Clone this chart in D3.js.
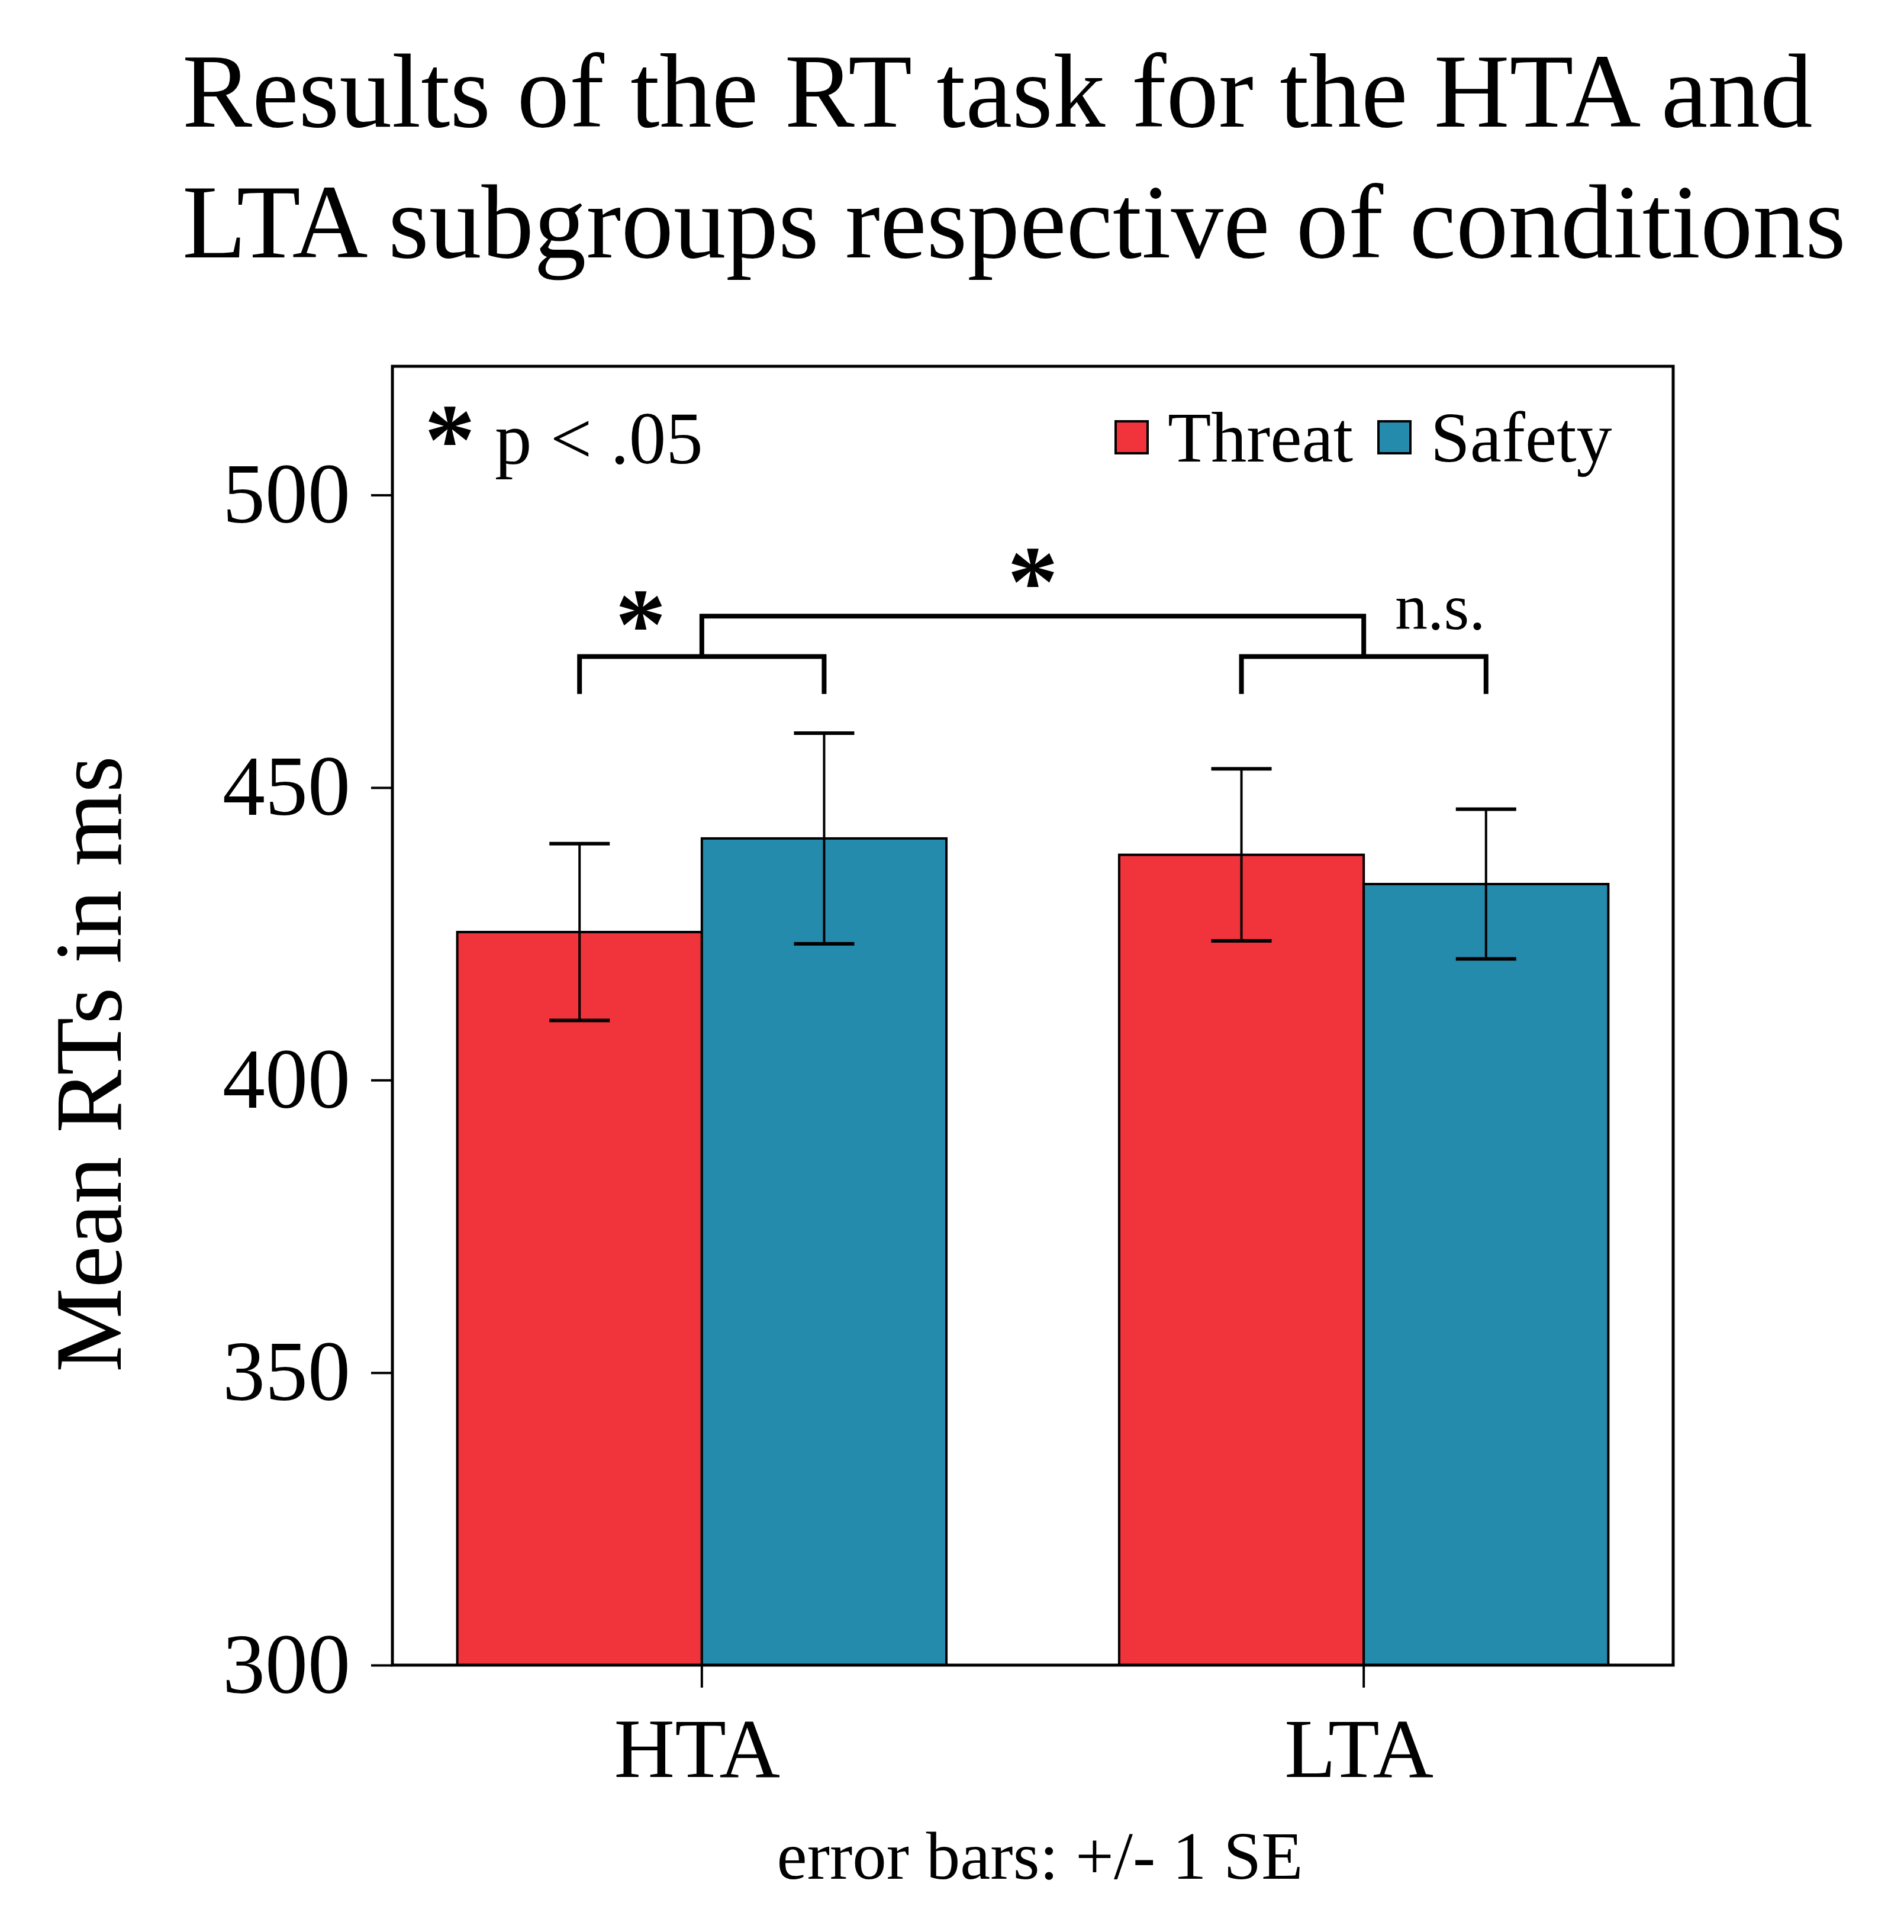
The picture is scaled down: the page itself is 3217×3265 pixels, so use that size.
<!DOCTYPE html>
<html>
<head>
<meta charset="utf-8">
<script src="https://cdn.jsdelivr.net/npm/d3@7"></script>
<style>
  body { margin: 0; background: #fff; }
</style>
</head>
<body>
<svg id="chart"></svg>
<script>
// Chart data
// ----------------------------------------
const GROUPS = ["HTA", "LTA"];
const CONDITIONS = ["Threat", "Safety"];
const THREAT_MEANS = [425.3, 438.5];
const SAFETY_MEANS = [441.3, 433.5];
const THREAT_SE = [15.1, 14.7];
const SAFETY_SE = [18.0, 12.8];
const Y_TICKS = [300, 350, 400, 450, 500];

const TITLE_LINES = [
    "Results of the RT task for the HTA and",
    "LTA subgroups respective of conditions"
];
const Y_LABEL = "Mean RTs in ms";
const NOTE_LABEL = "error bars: +/- 1 SE";

const SERIF = "'Liberation Serif', 'Times New Roman', serif";
const COLORS = { Threat: "#f1333b", Safety: "#258bad" };

function rtBarChart(selector) {
    const width = 3217,
        height = 3265,
        margin = { top: 619, right: 390, bottom: 451, left: 663 };

    const svg = d3.select(selector)
        .attr("width", width)
        .attr("height", height)
        .attr("font-family", SERIF);

    svg.append("rect")
        .attr("width", width)
        .attr("height", height)
        .attr("fill", "#fff");

    // rows: one per group, one value per condition
    const rows = GROUPS.map((g, i) => ({
        group: g,
        values: [
            { cond: "Threat", mean: THREAT_MEANS[i], se: THREAT_SE[i] },
            { cond: "Safety", mean: SAFETY_MEANS[i], se: SAFETY_SE[i] }
        ]
    }));

    // Scales
    // ----------------------------------------
    const x0 = d3.scaleBand()
        .domain(GROUPS)
        .range([margin.left, width - margin.right])
        .paddingInner(0.261)
        .paddingOuter(0.098);
    const x1 = d3.scaleBand()
        .domain(CONDITIONS)
        .range([0, x0.bandwidth()]);
    const y = d3.scaleLinear()
        .domain([300, 522])
        .range([height - margin.bottom, margin.top]);

    const barCenter = (g, c) => x0(g) + x1(c) + x1.bandwidth() / 2;
    const groupCenter = g => x0(g) + x0.bandwidth() / 2;

    // Title
    // ----------------------------------------
    svg.append("g")
        .selectAll("text")
        .data(TITLE_LINES)
        .join("text")
        .attr("x", 308)
        .attr("y", (d, i) => 214 + i * 221)
        .attr("font-size", 177)
        .text(d => d);

    // Bars
    // ----------------------------------------
    const group = svg.append("g")
        .selectAll("g")
        .data(rows)
        .join("g")
        .attr("transform", d => `translate(${x0(d.group)},0)`);

    group.selectAll("rect")
        .data(d => d.values)
        .join("rect")
        .attr("x", d => x1(d.cond))
        .attr("y", d => y(d.mean))
        .attr("width", x1.bandwidth())
        .attr("height", d => y(300) - y(d.mean))
        .attr("fill", d => COLORS[d.cond])
        .attr("stroke", "#000")
        .attr("stroke-width", 4);

    // error bars: +/- 1 SE
    const capHalf = 51;
    const err = group.selectAll("g.err")
        .data(d => d.values)
        .join("g")
        .attr("class", "err")
        .attr("transform", d => `translate(${x1(d.cond) + x1.bandwidth() / 2},0)`);
    err.append("line")
        .attr("y1", d => y(d.mean - d.se))
        .attr("y2", d => y(d.mean + d.se))
        .attr("stroke", "#000")
        .attr("stroke-width", 4);
    err.selectAll("line.cap")
        .data(d => [d.mean - d.se, d.mean + d.se])
        .join("line")
        .attr("class", "cap")
        .attr("x1", -capHalf)
        .attr("x2", capHalf)
        .attr("y1", d => y(d))
        .attr("y2", d => y(d))
        .attr("stroke", "#000")
        .attr("stroke-width", 6);

    // Axes
    // ----------------------------------------
    svg.append("g")
        .attr("transform", `translate(${margin.left},0)`)
        .call(d3.axisLeft(y).tickValues(Y_TICKS).tickSize(36).tickPadding(35))
        .call(g => g.select(".domain").remove())
        .call(g => g.selectAll("line").attr("stroke-width", 4))
        .attr("font-family", SERIF)
        .attr("font-size", 144);

    svg.append("g")
        .attr("transform", `translate(0,${height - margin.bottom})`)
        .call(d3.axisBottom(x0).tickSize(38).tickPadding(50))
        .call(g => g.select(".domain").remove())
        .call(g => g.selectAll("line").attr("stroke-width", 4))
        .call(g => g.selectAll("text").attr("dx", -8))
        .attr("font-family", SERIF)
        .attr("font-size", 142);

    // plot frame
    svg.append("rect")
        .attr("x", margin.left)
        .attr("y", margin.top)
        .attr("width", width - margin.left - margin.right)
        .attr("height", height - margin.top - margin.bottom)
        .attr("fill", "none")
        .attr("stroke", "#000")
        .attr("stroke-width", 5);

    svg.append("text")
        .attr("transform", `translate(204,1798) rotate(-90)`)
        .attr("text-anchor", "middle")
        .attr("font-size", 160)
        .text(Y_LABEL);

    svg.append("text")
        .attr("x", (margin.left + width - margin.right) / 2 + 12)
        .attr("y", 3175)
        .attr("text-anchor", "middle")
        .attr("font-size", 115)
        .text(NOTE_LABEL);

    // Significance brackets
    // ----------------------------------------
    const legLevel = 466.0, pairLevel = 472.4, groupLevel = 479.3;
    const brackets = svg.append("g")
        .attr("fill", "none")
        .attr("stroke", "#000")
        .attr("stroke-width", 8);

    GROUPS.forEach(g => {
        const p = d3.path();
        p.moveTo(barCenter(g, "Threat"), y(legLevel));
        p.lineTo(barCenter(g, "Threat"), y(pairLevel));
        p.lineTo(barCenter(g, "Safety"), y(pairLevel));
        p.lineTo(barCenter(g, "Safety"), y(legLevel));
        brackets.append("path").attr("d", p.toString());
    });
    const top = d3.path();
    top.moveTo(groupCenter("HTA"), y(pairLevel));
    top.lineTo(groupCenter("HTA"), y(groupLevel));
    top.lineTo(groupCenter("LTA"), y(groupLevel));
    top.lineTo(groupCenter("LTA"), y(pairLevel));
    brackets.append("path").attr("d", top.toString());

    const star = (cx, cy) => svg.append("text")
        .attr("x", cx)
        .attr("y", cy + 78)
        .attr("text-anchor", "middle")
        .attr("font-weight", "bold")
        .attr("font-size", 172)
        .text("*");

    star((barCenter("HTA", "Threat") + groupCenter("HTA")) / 2, y(479.9));
    star((groupCenter("HTA") + groupCenter("LTA")) / 2, y(487.2));

    svg.append("text")
        .attr("x", (groupCenter("LTA") + barCenter("LTA", "Safety")) / 2 + 26)
        .attr("y", y(477.1))
        .attr("text-anchor", "middle")
        .attr("font-size", 110)
        .text("n.s.");

    // p-value note
    star(760, 723);
    svg.append("text")
        .attr("x", 836)
        .attr("y", 783)
        .attr("font-size", 125)
        .text("p < .05");

    // Legend
    // ----------------------------------------
    const legend = svg.append("g")
        .attr("transform", "translate(1885,712)")
        .selectAll("g")
        .data(CONDITIONS)
        .join("g")
        .attr("transform", (d, i) => `translate(${i * 444},0)`);
    legend.append("rect")
        .attr("width", 54)
        .attr("height", 54)
        .attr("fill", d => COLORS[d])
        .attr("stroke", "#000")
        .attr("stroke-width", 4);
    legend.append("text")
        .attr("x", 88)
        .attr("y", 68)
        .attr("font-size", 120)
        .text(d => d);
}

rtBarChart("#chart");
</script>
</body>
</html>
